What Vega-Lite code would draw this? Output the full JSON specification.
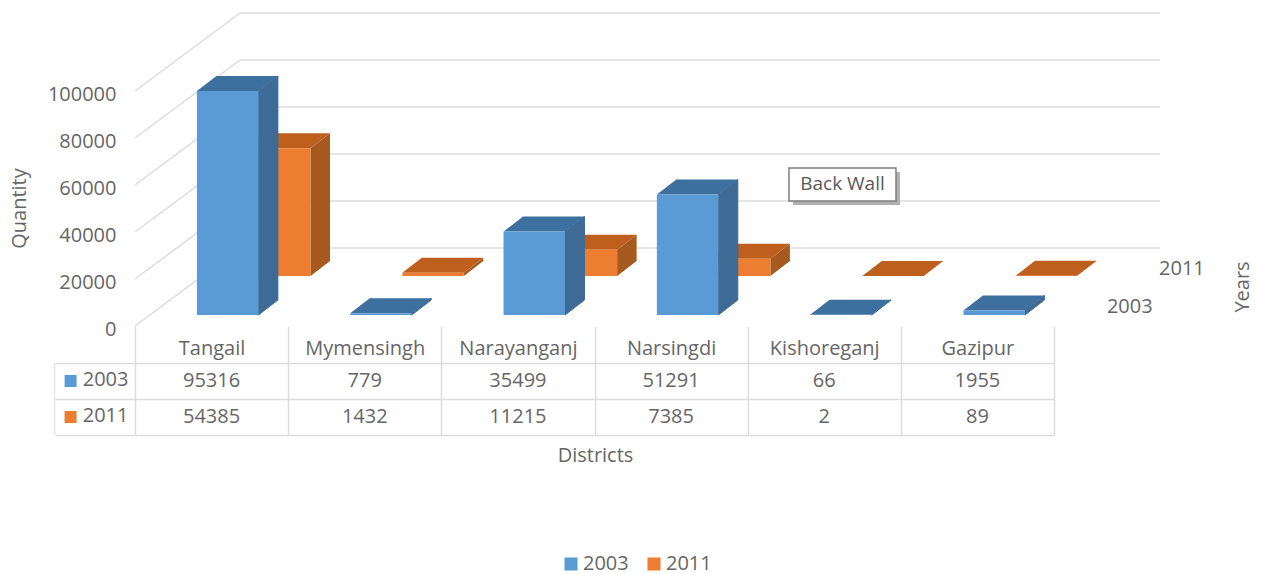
{
"$schema":"https://vega.github.io/schema/vega-lite/v6.json",
"padding":{"left":9,"top":0,"right":0,"bottom":0},
"background":"white",
"bounds":"flush",
"spacing":0,
"config":{"view":{"stroke":null},"text":{"font":"Open Sans"},"axis":{"labelFont":"Open Sans","titleFont":"Open Sans","labelColor":"#666666","titleColor":"#666666","labelFontSize":20,"titleFontSize":20,"titleFontWeight":"normal"},"legend":{"labelFont":"Open Sans","labelColor":"#666666","labelFontSize":20}},
"datasets":{
"bars":[
{"district":"Tangail","year":"2003","value":95316},
{"district":"Mymensingh","year":"2003","value":779},
{"district":"Narayanganj","year":"2003","value":35499},
{"district":"Narsingdi","year":"2003","value":51291},
{"district":"Kishoreganj","year":"2003","value":66},
{"district":"Gazipur","year":"2003","value":1955},
{"district":"Tangail","year":"2011","value":54385},
{"district":"Mymensingh","year":"2011","value":1432},
{"district":"Narayanganj","year":"2011","value":11215},
{"district":"Narsingdi","year":"2011","value":7385},
{"district":"Kishoreganj","year":"2011","value":2},
{"district":"Gazipur","year":"2011","value":89}
],
"ticks":[{"tick":0},{"tick":20000},{"tick":40000},{"tick":60000},{"tick":80000},{"tick":100000}],
"years":[{"year":"2003","u":6.34,"v":8085},{"year":"2011","u":6.68,"v":24255}]
},
"vconcat":[
{
"width":1126,"height":326,
"data":{"name":"bars"},
"transform":[
{"calculate":"[0,1]","as":"corner"},
{"flatten":["corner"]},
{"calculate":"indexof(['Tangail','Mymensingh','Narayanganj','Narsingdi','Kishoreganj','Gazipur'],datum.district)+0.404+(datum.year=='2011'?0.34:0)","as":"left"},
{"calculate":"datum.left+0.401","as":"right"},
{"calculate":"datum.year=='2011'?21277:4681","as":"base"},
{"calculate":"datum.base+datum.value","as":"top"},
{"calculate":"datum.right+datum.corner*0.127","as":"sideX"},
{"calculate":"datum.left+datum.corner*0.127","as":"capX"},
{"calculate":"datum.base+datum.corner*6383","as":"sideBase"},
{"calculate":"datum.top+datum.corner*6383","as":"sideTop"}
],
"layer":[
{"data":{"name":"ticks"},"transform":[{"calculate":"datum.tick+33191","as":"back"},{"calculate":"0.685","as":"bx"},{"calculate":"0","as":"fx"}],
"mark":{"type":"rule","color":"#DCDCDC","strokeWidth":1.5},
"encoding":{
"x":{"field":"fx","type":"quantitative","scale":{"domain":[0,7.345]},"axis":null},
"x2":{"field":"bx"},
"y":{"field":"tick","type":"quantitative","scale":{"domain":[0,138723]},"title":"Quantity","axis":{"values":[0,20000,40000,60000,80000,100000],"grid":false,"domain":false,"ticks":false,"labelPadding":19,"labelOffset":3.5,"format":"d","titleX":-106,"titleY":208,"titleAngle":270}},
"y2":{"field":"back"}}},
{"data":{"name":"ticks"},"transform":[{"calculate":"datum.tick+33191","as":"back"},{"calculate":"0.685","as":"bx"},{"calculate":"6.686","as":"ex"}],
"mark":{"type":"rule","color":"#DCDCDC","strokeWidth":1.5},
"encoding":{
"x":{"field":"bx","type":"quantitative","scale":{"domain":[0,7.345]},"axis":null},
"x2":{"field":"ex"},
"y":{"field":"back","type":"quantitative","scale":{"domain":[0,138723]},"title":"Quantity"}}},
{"transform":[{"filter":"datum.year=='2011'"}],"mark":{"type":"area","orient":"vertical","color":"#A65A1F"},
"encoding":{"detail":{"field":"district"},
"x":{"field":"sideX","type":"quantitative","scale":{"domain":[0,7.345]},"axis":null},
"y":{"field":"sideBase","type":"quantitative","stack":null,"scale":{"domain":[0,138723]},"title":"Quantity"},"y2":{"field":"sideTop"}}},
{"transform":[{"filter":"datum.year=='2011'"},{"calculate":"datum.capX+0.401","as":"capX2"}],"mark":{"type":"area","orient":"horizontal","color":"#BE5F1E"},
"encoding":{"detail":{"field":"district"},
"y":{"field":"sideTop","type":"quantitative","scale":{"domain":[0,138723]},"title":"Quantity"},
"x":{"field":"capX","type":"quantitative","stack":null,"scale":{"domain":[0,7.345]},"axis":null},"x2":{"field":"capX2"}}},
{"transform":[{"filter":"datum.year=='2011' && datum.corner==0"}],"mark":{"type":"rect","color":"#ED7D31"},
"encoding":{
"x":{"field":"left","type":"quantitative","scale":{"domain":[0,7.345]},"axis":null},"x2":{"field":"right"},
"y":{"field":"base","type":"quantitative","scale":{"domain":[0,138723]},"title":"Quantity"},"y2":{"field":"top"}}},
{"transform":[{"filter":"datum.year=='2003'"}],"mark":{"type":"area","orient":"vertical","color":"#3E6B96","stroke":"#3E6B96","strokeWidth":1},
"encoding":{"detail":{"field":"district"},
"x":{"field":"sideX","type":"quantitative","scale":{"domain":[0,7.345]},"axis":null},
"y":{"field":"sideBase","type":"quantitative","stack":null,"scale":{"domain":[0,138723]},"title":"Quantity"},"y2":{"field":"sideTop"}}},
{"transform":[{"filter":"datum.year=='2003'"},{"calculate":"datum.capX+0.401","as":"capX2"}],"mark":{"type":"area","orient":"horizontal","color":"#3D6F9F"},
"encoding":{"detail":{"field":"district"},
"y":{"field":"sideTop","type":"quantitative","scale":{"domain":[0,138723]},"title":"Quantity"},
"x":{"field":"capX","type":"quantitative","stack":null,"scale":{"domain":[0,7.345]},"axis":null},"x2":{"field":"capX2"}}},
{"transform":[{"filter":"datum.year=='2003' && datum.corner==0"}],"mark":{"type":"rect","color":"#5B9BD5"},
"encoding":{
"x":{"field":"left","type":"quantitative","scale":{"domain":[0,7.345]},"axis":null},"x2":{"field":"right"},
"y":{"field":"base","type":"quantitative","scale":{"domain":[0,138723]},"title":"Quantity"},"y2":{"field":"top"}}},
{"data":{"name":"years"},"mark":{"type":"text","align":"left","baseline":"middle","fontSize":20,"color":"#666666"},
"encoding":{"text":{"field":"year"},
"x":{"field":"u","type":"quantitative","scale":{"domain":[0,7.345]},"axis":null},
"y":{"field":"v","type":"quantitative","scale":{"domain":[0,138723]},"title":"Quantity"}}},
{"data":{"values":[{"label":"Years"}]},"mark":{"type":"text","align":"center","baseline":"middle","fontSize":20,"color":"#666666","angle":270},
"encoding":{"text":{"field":"label"},
"x":{"datum":7.228,"type":"quantitative","scale":{"domain":[0,7.345]},"axis":null},
"y":{"datum":16596,"type":"quantitative","scale":{"domain":[0,138723]},"title":"Quantity"}}},
{"data":{"values":[{"label":"Back Wall"}]},"mark":{"type":"rect","color":"#B0B0B0"},
"encoding":{
"x":{"datum":4.292,"type":"quantitative","scale":{"domain":[0,7.345]},"axis":null},"x2":{"datum":4.99},
"y":{"datum":65532,"type":"quantitative","scale":{"domain":[0,138723]},"title":"Quantity"},"y2":{"datum":51489}}},
{"data":{"values":[{"label":"Back Wall"}]},"mark":{"type":"rect","fill":"white","stroke":"#7F7F7F","strokeWidth":1.5},
"encoding":{
"x":{"datum":4.266,"type":"quantitative","scale":{"domain":[0,7.345]},"axis":null},"x2":{"datum":4.964},
"y":{"datum":67234,"type":"quantitative","scale":{"domain":[0,138723]},"title":"Quantity"},"y2":{"datum":53191}}},
{"data":{"values":[{"label":"Back Wall"}]},"mark":{"type":"text","align":"center","baseline":"middle","fontSize":19,"color":"#595959"},
"encoding":{"text":{"field":"label"},
"x":{"datum":4.615,"type":"quantitative","scale":{"domain":[0,7.345]},"axis":null},
"y":{"datum":60426,"type":"quantitative","scale":{"domain":[0,138723]},"title":"Quantity"}}}
]
},
{
"width":919,"height":109,
"data":{"name":"bars"},
"encoding":{
"x":{"field":"district","type":"nominal","sort":["Tangail","Mymensingh","Narayanganj","Narsingdi","Kishoreganj","Gazipur"],"scale":{"paddingInner":0,"paddingOuter":0},
"title":"Districts","axis":{"orient":"top","labelAngle":0,"labelBaseline":"middle","labelPadding":-22,"ticks":false,"domain":false,"grid":true,"tickBand":"extent","gridColor":"#DCDCDC","gridWidth":1.5,"titleX":460,"titleY":139,"labelAlign":"center"}},
"y":{"field":"year","type":"nominal","sort":["2003","2011"],"scale":{"paddingInner":0,"paddingOuter":0.514,"align":1},
"title":null,"axis":{"domain":false,"grid":true,"tickBand":"extent","gridColor":"#DCDCDC","gridWidth":1.5,"tickSize":80,"tickColor":"#DCDCDC","tickWidth":1.5,"labelPadding":-73,"labelOffset":-2}}
},
"layer":[
{"mark":{"type":"text","fontSize":20,"color":"#666666","baseline":"middle"},"encoding":{"text":{"field":"value","type":"quantitative","format":"d"}}},
{"transform":[{"filter":"datum.district=='Tangail'"}],"mark":{"type":"tick","orient":"vertical","size":36,"thickness":1.5,"color":"#DCDCDC","xOffset":-157}},
{"transform":[{"filter":"datum.district=='Tangail'"}],"mark":{"type":"square","size":144,"opacity":1,"filled":true,"xOffset":-141},
"encoding":{"color":{"field":"year","type":"nominal","scale":{"domain":["2003","2011"],"range":["#5B9BD5","#ED7D31"]},
"legend":{"orient":"none","legendX":426,"legendY":554,"direction":"horizontal","title":null,"symbolType":"square","symbolSize":170,"columnPadding":15,"labelOffset":2}}}}
]
}
]
}
